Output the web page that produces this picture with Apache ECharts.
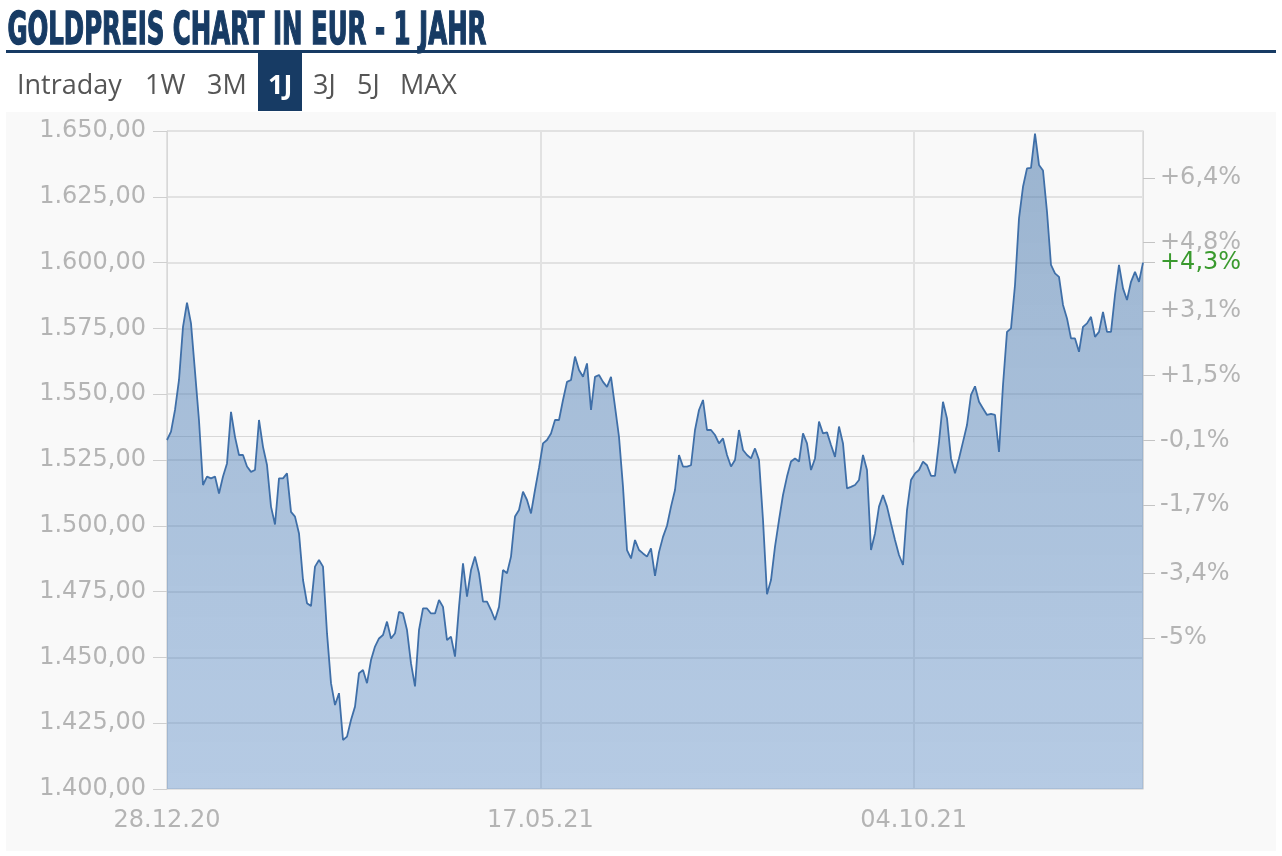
<!DOCTYPE html>
<html>
<head>
<meta charset="utf-8">
<script src="https://cdn.jsdelivr.net/npm/echarts@6/dist/echarts.min.js"></script>
<style>
html,body{margin:0;padding:0;background:#ffffff;}
#panel{position:absolute;left:6px;top:112px;width:1270px;height:739px;background:#f9f9f9;}
#chart{position:absolute;left:0;top:0;width:1282px;height:856px;}
</style>
</head>
<body>
<div id="panel"></div>
<div id="chart"></div>
<script>
// ---- data ----
const dayStep = 1.5;                         // calendar days between samples
const dateTicks = ['28.12.20', '17.05.21', '04.10.21'];
const dateTickStep = 140;                    // days between date ticks
const priceTicks = [1400, 1425, 1450, 1475, 1500, 1525, 1550, 1575, 1600, 1625, 1650];
const basePrice = 1534.0;                    // reference price for the % axis
const pctTicks = [-5, -3.4, -1.7, -0.1, 1.5, 3.1, 4.8, 6.4];
const prices = [
1532.6,1535.8,1544.0,1555.4,1575.6,1584.8,1576.9,1558.6,1540.0,1515.5,
1518.7,1518.0,1518.7,1512.3,1518.7,1523.7,1543.3,1533.8,1526.9,1526.9,
1522.5,1520.5,1521.2,1540.2,1530.0,1523.1,1507.3,1500.5,1518.0,1518.0,
1519.9,1505.3,1503.5,1497.1,1479.4,1470.6,1469.5,1484.5,1487.0,1484.5,
1459.2,1440.2,1431.9,1436.4,1418.6,1419.9,1426.2,1431.3,1444.0,1445.2,
1440.2,1449.0,1454.1,1457.2,1458.5,1463.6,1457.2,1459.2,1467.3,1466.7,
1460.4,1447.7,1439.0,1460.4,1468.6,1468.6,1466.7,1466.7,1471.8,1469.2,
1456.6,1457.9,1450.3,1469.2,1485.7,1473.1,1483.2,1488.3,1482.0,1471.2,
1471.2,1468.0,1464.2,1469.2,1483.2,1482.0,1488.3,1503.5,1506.0,1513.0,
1509.8,1504.7,1513.6,1522.0,1531.3,1532.6,1535.1,1540.2,1540.2,1547.8,
1554.7,1555.4,1564.3,1559.2,1556.6,1561.7,1544.0,1556.6,1557.3,1554.7,
1552.8,1556.6,1545.3,1533.8,1514.8,1490.8,1487.6,1494.6,1490.8,1489.5,
1488.3,1491.4,1481.0,1490.0,1495.8,1500.0,1507.3,1513.6,1526.9,1522.5,
1522.5,1523.0,1536.4,1544.0,1547.8,1536.4,1536.4,1534.5,1531.3,1533.2,
1526.9,1522.5,1525.0,1536.4,1528.8,1526.9,1525.6,1529.4,1525.0,1502.2,
1474.0,1479.4,1492.1,1502.2,1511.7,1518.7,1524.4,1525.6,1524.4,1535.1,
1531.3,1521.2,1525.6,1539.6,1535.1,1535.5,1530.7,1526.2,1537.7,1531.3,
1514.2,1514.8,1515.5,1517.4,1526.9,1521.2,1490.8,1497.1,1507.3,1511.7,
1507.3,1500.9,1494.6,1488.9,1485.1,1506.0,1517.4,1519.9,1521.2,1524.4,
1523.0,1519.0,1519.0,1531.9,1547.1,1540.8,1525.6,1520.0,1525.6,1531.9,
1538.3,1549.7,1553.0,1547.1,1544.6,1542.1,1542.5,1542.1,1528.1,1553.5,
1573.7,1575.0,1591.5,1616.8,1628.8,1635.8,1636.0,1649.0,1637.1,1635.0,
1619.3,1599.1,1595.9,1594.6,1583.9,1578.8,1571.2,1571.2,1566.1,1575.6,
1576.9,1579.4,1571.8,1573.7,1581.3,1573.7,1573.7,1587.7,1599.1,1590.2,
1585.8,1592.7,1596.5,1592.7,1600.0
];
const tabs = ['Intraday', '1W', '3M', '1J', '3J', '5J', 'MAX'];
const activeTab = '1J';
const titleText = 'GOLDPREIS CHART IN EUR - 1 JAHR';

// ---- build ----
const seriesData = prices.map((p, i) => [i * dayStep, p]);
const xMax = (prices.length - 1) * dayStep;
const yMin = priceTicks[0], yMax = priceTicks[priceTicks.length - 1];
const toPct = v => (v / basePrice - 1) * 100;
const lastPct = toPct(prices[prices.length - 1]);
const lastPctRounded = Math.round(lastPct * 10) / 10;

function fmtPrice(v) {
  const s = v.toFixed(2).split('.');
  return s[0].replace(/\B(?=(\d{3})+(?!\d))/g, '.') + ',' + s[1];
}
function fmtPct(p) {
  const r = Math.round(p * 10) / 10;
  let s = Number.isInteger(r) ? String(Math.abs(r)) : Math.abs(r).toFixed(1).replace('.', ',');
  return (r > 0 ? '+' : '-') + s + '%';
}

const GRAY = '#b4b4b4';
const NAVY = '#173b64';
const FONT = '"DejaVu Sans", Verdana, sans-serif';

// title measurement for condensed look
const titleFont = 'bold 44px "DejaVu Sans Condensed", "DejaVu Sans"';
const cv = document.createElement('canvas').getContext('2d');
cv.font = titleFont;
const titleW = cv.measureText(titleText).width;
const titleScale = 479 / titleW;

const tabX = [17, 145, 207, 268, 313, 357, 400];
const graphics = [
  { type: 'text', left: 7, top: 10, scaleX: titleScale, originX: 0,
    style: { text: titleText, font: titleFont, fill: NAVY, stroke: NAVY, lineWidth: 1.4 } },
  { type: 'rect', shape: { x: 6, y: 50, width: 1270, height: 3 }, style: { fill: NAVY } },
  { type: 'rect', shape: { x: 258, y: 52, width: 44, height: 59 }, style: { fill: NAVY } }
];
tabs.forEach((t, i) => {
  const act = t === activeTab;
  graphics.push({ type: 'text', x: tabX[i], y: 86,
    style: { text: t, fill: act ? '#ffffff' : '#555555',
      font: (act ? 'bold ' : '') + '27px "Open Sans"', verticalAlign: 'middle' } });
});

const chart = echarts.init(document.getElementById('chart'), null, { renderer: 'canvas' });
chart.setOption({
  animation: false,
  backgroundColor: 'transparent',
  graphic: graphics,
  grid: { left: 167, right: 139, top: 131, bottom: 67, containLabel: false },
  xAxis: {
    type: 'value', min: 0, max: xMax, interval: dateTickStep,
    axisLine: { show: true, lineStyle: { color: '#d8d8d8', width: 1 } },
    axisTick: { show: true, length: 6, lineStyle: { color: '#d0d0d0' } },
    axisLabel: { color: GRAY, fontSize: 24, fontFamily: FONT, margin: 20,
      showMaxLabel: false,
      formatter: v => dateTicks[Math.round(v / dateTickStep)] || '' },
    splitLine: { show: true, lineStyle: { color: '#e2e2e2', width: 2 } }
  },
  yAxis: [
    {
      type: 'value', min: yMin, max: yMax, interval: priceTicks[1] - priceTicks[0],
      axisLine: { show: true, lineStyle: { color: '#d8d8d8', width: 1 } },
      axisTick: { show: true, length: 14, lineStyle: { color: '#cfcfcf' } },
      axisLabel: { color: GRAY, fontSize: 24, fontFamily: FONT, margin: 21,
        formatter: v => fmtPrice(v) },
      splitLine: { show: true, lineStyle: { color: '#e2e2e2', width: 2 } }
    },
    {
      type: 'value', position: 'right',
      min: toPct(yMin), max: toPct(yMax),
      axisLine: { show: true, lineStyle: { color: '#d8d8d8', width: 1 } },
      axisTick: { show: true, length: 12, customValues: pctTicks.concat([lastPctRounded]),
        lineStyle: { color: '#c4c4c4' } },
      axisLabel: { fontSize: 24, fontFamily: FONT, margin: 17, color: GRAY,
        customValues: pctTicks.concat([lastPctRounded]),
        formatter: v => Math.abs(v - lastPctRounded) < 1e-9 ? '{g|' + fmtPct(v) + '}' : fmtPct(v),
        rich: { g: { color: '#3a9a2e', fontSize: 24, fontFamily: FONT } } },
      splitLine: { show: false }
    }
  ],
  series: [{
    type: 'line', data: seriesData, showSymbol: false, symbol: 'none',
    lineStyle: { color: '#3f6fa8', width: 1.8 },
    areaStyle: {
      opacity: 1,
      color: new echarts.graphic.LinearGradient(0, 0, 0, 1, [
        { offset: 0, color: 'rgba(60,110,165,0.50)' },
        { offset: 1, color: 'rgba(90,140,200,0.42)' }
      ])
    },
    silent: true
  }]
});
</script>
</body>
</html>
